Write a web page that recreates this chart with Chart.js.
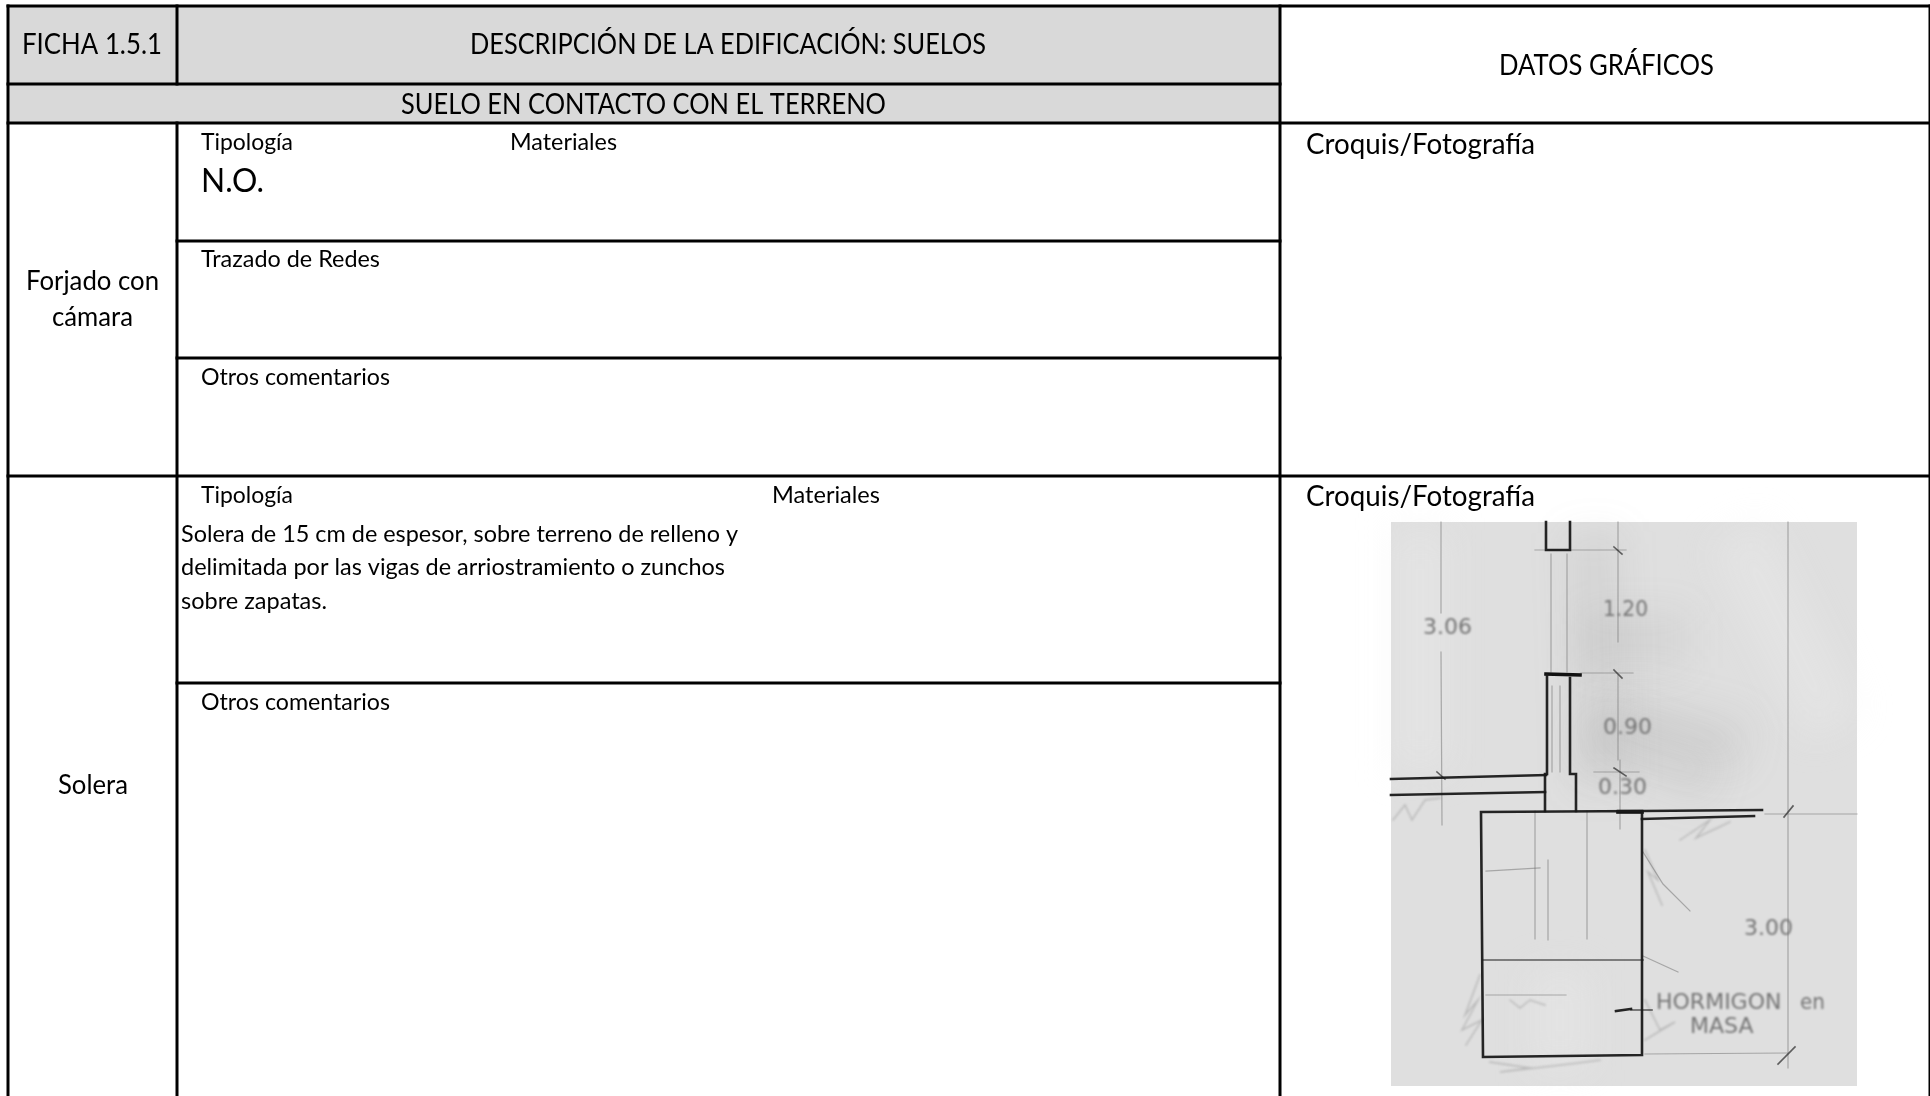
<!DOCTYPE html>
<html>
<head>
<meta charset="utf-8">
<title>Ficha 1.5.1</title>
<script src="https://cdn.jsdelivr.net/npm/chart.js@4/dist/chart.umd.min.js"></script>
<style>
    html, body { margin: 0; padding: 0; background: #fff; overflow: hidden; }
    canvas { display: block; }
</style>
</head>
<body>
<canvas id="ficha" width="1930" height="1096"></canvas>
<script>
// table rules
const tableRules = [
    [[8, 6], [1930, 6]],
    [[8, 84], [1280, 84]],
    [[8, 123], [1930, 123]],
    [[177, 241], [1280, 241]],
    [[177, 358], [1280, 358]],
    [[8, 476], [1930, 476]],
    [[177, 683], [1280, 683]],
    [[8, 6], [8, 1096]],
    [[177, 6], [177, 84]],
    [[177, 123], [177, 1096]],
    [[1280, 6], [1280, 1096]],
    [[1930, 6], [1930, 1096]]
];
const headerShade = [[8, 6], [1280, 6], [1280, 123], [8, 123]];
const photoShade = [[1391, 522], [1857, 522], [1857, 1086], [1391, 1086]];

// table text
const cellTexts = ['FICHA 1.5.1', 'DESCRIPCIÓN DE LA EDIFICACIÓN: SUELOS', 'DATOS GRÁFICOS', 'SUELO EN CONTACTO CON EL TERRENO',
    'Tipología', 'Materiales', 'N.O.', 'Trazado de Redes', 'Otros comentarios', 'Croquis/Fotografía',
    'Forjado con', 'cámara', 'Solera', 'Tipología', 'Materiales', 'Croquis/Fotografía',
    'Solera de 15 cm de espesor, sobre terreno de relleno y', 'delimitada por las vigas de arriostramiento o zunchos', 'sobre zapatas.', 'Otros comentarios'];
const cellLeft = [22, 470, 1499, 401, 201, 510, 201, 201, 201, 1306, 26, 52, 58, 201, 772, 1306, 181, 181, 181, 201];
const cellWidth = [140, 516, 215, 485, 92, 107, 63, 179, 189, 229, 133, 81, 70, 92, 108, 229, 557, 544, 146, 189];
const cellMiddle = [45, 45, 66, 105, 142, 142, 181, 259, 377, 145, 282, 318, 786, 495, 495, 497, 534, 567, 601, 702];
const cellSize = [28, 28, 28, 28, 24, 24, 33, 24, 24, 28, 26, 26, 26, 24, 24, 28, 24, 24, 24, 24];

// pencil notes on the sketch
const noteTexts = ['3.06', '1.20', '0.90', '0.30', '3.00', 'HORMIGON', 'en', 'MASA'];
const noteLeft = [1423, 1603, 1603, 1598, 1744, 1656, 1800, 1690];
const noteWidth = [54, 45, 60, 62, 58, 128, 25, 73];
const noteMiddle = [628, 610, 728, 788, 929, 1003, 1003, 1027];

// sketch strokes
const heavyStrokes = [
    [[1481, 812], [1642, 811], [1642, 1055], [1483, 1057], [1481, 812]],
    [[1545, 811], [1545, 774], [1547, 774], [1547, 675]],
    [[1576, 811], [1576, 774], [1570, 774], [1570, 678]],
    [[1546, 522], [1546, 550], [1570, 550], [1570, 522]],
    [[1391, 779], [1546, 775]],
    [[1391, 795], [1545, 792]],
    [[1618, 811], [1642, 811], [1762, 810]],
    [[1642, 819], [1754, 816]],
    [[1616, 1011], [1631, 1009]]
];
const capStrokes = [
    [[1546, 674], [1580, 675]],
    [[1618, 812], [1642, 812]]
];
const mediumStrokes = [
    [[1437, 772], [1445, 779]],
    [[1614, 547], [1622, 554]],
    [[1614, 670], [1622, 678]],
    [[1614, 768], [1626, 776]],
    [[1784, 817], [1793, 806]],
    [[1778, 1064], [1795, 1047]],
    [[1631, 1010], [1652, 1010]],
    [[1483, 960], [1643, 960]]
];
const faintStrokes = [
    [[1788, 522], [1788, 1068]],
    [[1765, 814], [1857, 814]],
    [[1618, 522], [1618, 642]],
    [[1618, 675], [1618, 760]],
    [[1620, 760], [1620, 829]],
    [[1535, 550], [1626, 550]],
    [[1581, 673], [1633, 673]],
    [[1594, 772], [1639, 772]],
    [[1441, 522], [1441, 613]],
    [[1441, 652], [1442, 825]],
    [[1535, 811], [1535, 939]],
    [[1587, 811], [1587, 939]],
    [[1551, 554], [1551, 672]],
    [[1567, 554], [1567, 672]],
    [[1552, 686], [1552, 772]],
    [[1560, 686], [1560, 772]],
    [[1645, 1054], [1787, 1053]],
    [[1643, 956], [1678, 972]],
    [[1643, 852], [1663, 884], [1690, 911]],
    [[1486, 995], [1566, 995]],
    [[1486, 871], [1540, 868]],
    [[1548, 860], [1548, 940]]
];
const hatchStrokes = [
    [[1393, 820], [1405, 805], [1412, 820], [1425, 800], [1440, 798]],
    [[1680, 840], [1710, 820], [1696, 838], [1730, 822]],
    [[1645, 850], [1658, 880], [1648, 872], [1662, 905]],
    [[1480, 975], [1465, 1015], [1478, 1000], [1462, 1030], [1482, 1020], [1466, 1045]],
    [[1490, 1062], [1530, 1068], [1500, 1072], [1570, 1064], [1600, 1060]],
    [[1645, 1000], [1660, 1030], [1675, 1022], [1645, 1040]],
    [[1510, 1000], [1520, 1008], [1530, 1000], [1545, 1005]]
];

// darker and lighter patches of the scanned paper
const darkPatches = [
    [[1594, 560], [1600, 760]],
    [[1610, 640], [1660, 640]],
    [[1610, 740], [1690, 770]],
    [[1640, 720], [1720, 740]]
];
const lightPatches = [
    [[1420, 560], [1420, 740]],
    [[1560, 1000], [1560, 1040]],
    [[1750, 560], [1820, 700]]
];

function toPoints(stroke) {
    return stroke.map(p => ({ x: p[0], y: p[1] }));
}

function strokeDatasets(strokes, color, width, order, blur) {
    return strokes.map(stroke => ({
        data: toPoints(stroke),
        showLine: true,
        pointRadius: 0,
        borderColor: color,
        borderWidth: width,
        borderCapStyle: 'square',
        fill: false,
        order: order,
        blur: blur
    }));
}

function shadeDataset(points, color, order) {
    return {
        data: toPoints(points),
        showLine: true,
        pointRadius: 0,
        borderWidth: 0,
        borderColor: 'transparent',
        backgroundColor: color,
        fill: 'shape',
        order: order
    };
}

// blur for the scanned sketch, per dataset
const softStrokes = {
    id: 'softStrokes',
    beforeDatasetDraw(chart, args) {
        const ds = chart.data.datasets[args.index];
        chart.ctx.save();
        if (ds.blur) chart.ctx.filter = 'blur(' + ds.blur + 'px)';
    },
    afterDatasetDraw(chart) {
        chart.ctx.restore();
    }
};

// writes the table text through the chart scales
const cellLabels = {
    id: 'cellLabels',
    afterDatasetsDraw(chart) {
        const ctx = chart.ctx;
        const x = chart.scales.x;
        const y = chart.scales.y;
        ctx.save();
        ctx.textBaseline = 'middle';
        ctx.textAlign = 'left';

        ctx.fillStyle = '#000';
        cellTexts.forEach((text, i) => {
            ctx.font = cellSize[i] + 'px Lato';
            ctx.fillText(text, x.getPixelForValue(cellLeft[i]), y.getPixelForValue(cellMiddle[i]), cellWidth[i]);
        });

        ctx.fillStyle = '#757575';
        ctx.filter = 'blur(0.8px)';
        noteTexts.forEach((text, i) => {
            ctx.font = '22px "DejaVu Sans"';
            ctx.fillText(text, x.getPixelForValue(noteLeft[i]), y.getPixelForValue(noteMiddle[i]), noteWidth[i]);
        });
        ctx.restore();
    }
};

new Chart(document.getElementById('ficha'), {
    type: 'scatter',
    data: {
        datasets: [
            shadeDataset(headerShade, '#d9d9d9', 10),
            shadeDataset(photoShade, '#dfdfdf', 10),
            ...strokeDatasets(darkPatches, 'rgba(130, 130, 130, 0.1)', 56, 9, 18),
            ...strokeDatasets(lightPatches, 'rgba(240, 240, 240, 0.3)', 60, 9, 18),
            ...strokeDatasets(hatchStrokes, 'rgba(120, 120, 120, 0.35)', 1.5, 8, 0.8),
            ...strokeDatasets(faintStrokes, 'rgba(110, 110, 110, 0.5)', 1.2, 7, 0.5),
            ...strokeDatasets(mediumStrokes, 'rgba(50, 50, 50, 0.75)', 1.6, 6, 0.5),
            ...strokeDatasets(heavyStrokes, 'rgba(25, 25, 25, 0.95)', 2.6, 5, 0.5),
            ...strokeDatasets(capStrokes, '#111', 3.6, 5, 0.5),
            ...strokeDatasets(tableRules, '#000', 3, 1, 0)
        ]
    },
    options: {
        responsive: false,
        animation: false,
        layout: { padding: 0 },
        scales: {
            x: { type: 'linear', display: false, min: 0, max: 1930 },
            y: { type: 'linear', display: false, min: 0, max: 1096, reverse: true }
        },
        plugins: {
            legend: { display: false },
            tooltip: { enabled: false }
        }
    },
    plugins: [softStrokes, cellLabels]
});
</script>
</body>
</html>
